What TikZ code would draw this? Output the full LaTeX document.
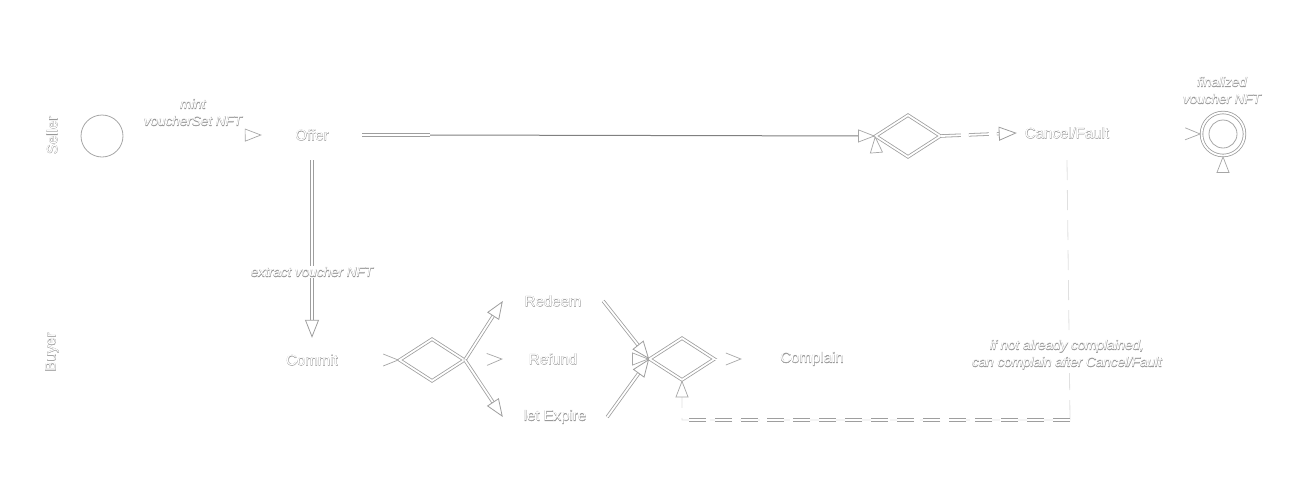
\documentclass[tikz,border=0pt]{standalone}
\usepackage{fontspec}
\setmainfont{Liberation Sans}
\newfontfamily\strokefont{Liberation Sans}[FakeBold=3]
\usetikzlibrary{shapes.geometric,arrows.meta}
\newcommand\ghost[1]{\leavevmode\rlap{\strokefont\color{black!40}#1}{\color{white}#1}}
\begin{document}
\begin{tikzpicture}[x=1pt,y=-1pt,
  lbl/.style={font=\fontsize{15}{18}\selectfont, inner sep=0pt},
  ilbl/.style={font=\fontsize{13.5}{17}\selectfont\itshape, align=center, inner sep=1pt},
  gate/.style={diamond, draw=black!38, line width=0.8pt, double=white, double distance=1.8pt, minimum width=65pt, minimum height=42pt, inner sep=0pt},
  dbl/.style={draw=black!38, line width=0.8pt, double=white, double distance=1.8pt},
  sgl/.style={draw=black!50, line width=1pt},
  ghostline/.style={draw=white, line width=0.5pt},
  faint/.style={draw=black!12, line width=0.8pt},
  tri/.style={-{Triangle[open,length=18pt,width=14pt]}},
  gtri/.style={-{Triangle[open,length=17pt,width=13pt,color=black!35,line width=0.7pt]}},
  gbarb/.style={-{Straight Barb[length=15pt,width=12pt,color=black!35,line width=0.7pt]}}
]
\useasboundingbox (0,0) rectangle (1305,485);
% nodes
\node[lbl, rotate=90] (seller) at (52,135) {\ghost{Seller}};
\node[lbl, rotate=90] (buyer) at (52,352) {\ghost{Buyer}};
\node[circle, draw=black!35, line width=0.8pt, minimum size=42pt, inner sep=0pt] (start) at (102,136) {};
\node[ilbl] (mintl) at (193,114) {\ghost{\begin{tabular}{@{}c@{}}mint\\voucherSet NFT\end{tabular}}};
\node[lbl, minimum width=100pt, minimum height=50pt] (offer) at (312,135) {\ghost{Offer}};
\node[lbl, minimum width=100pt, minimum height=44pt] (commit) at (312,360) {\ghost{Commit}};
\node[gate] (d1) at (432,360) {};
\node[lbl, minimum width=100pt, minimum height=30pt] (redeem) at (553,301) {\ghost{Redeem}};
\node[lbl, minimum width=100pt, minimum height=30pt] (refund) at (553,359) {\ghost{Refund}};
\node[lbl, minimum width=104pt, minimum height=30pt] (expire) at (555,417) {\ghost{let Expire}};
\node[gate] (d2) at (682,359) {};
\node[lbl, minimum width=140pt, minimum height=30pt] (complain) at (812,359) {\ghost{Complain}};
\node[gate] (d3) at (908,136) {};
\node[lbl, minimum width=100pt, minimum height=54pt] (cancel) at (1067,133) {\ghost{Cancel/Fault}};
\node[circle, dbl, minimum size=43pt, inner sep=0pt] (final) at (1223,134) {};
\node[circle, draw=black!35, line width=0.8pt, minimum size=28pt, inner sep=0pt] (finalin) at (final.center) {};
\node[ilbl] (finl) at (1222,92) {\ghost{\begin{tabular}{@{}c@{}}finalized\\voucher NFT\end{tabular}}};
\coordinate (o1) at (430,135);
\coordinate (k1) at (1070,420);
\coordinate (k2) at (683,420);
\coordinate (u3) at (877,160);
\coordinate (u4) at (1223,178);
% invisible connectors with visible tips
\draw[ghostline, gtri] (start) -- (offer.west);
\draw[ghostline, gbarb] (commit.east) -- (d1.west);
\draw[ghostline, gbarb] (d1.east) -- (refund.west);
\draw[ghostline, gtri] (refund.east) -- (d2.west);
\draw[ghostline, gbarb] (d2.east) -- (complain.west);
\draw[ghostline, gbarb] (cancel.east) -- (final.west);
\draw[ghostline, gtri] (u3) -- (d3.west);
\draw[ghostline, gtri] (u4) -- (final.south);
% visible connectors
\draw[dbl] (offer.east) -- (o1);
\draw[sgl, -{Triangle[open,length=17pt,width=13pt,color=black!35,line width=0.7pt]}] (o1) -- (d3.west);
\draw[dbl, tri] (offer.south) -- (commit.north)
  node[ilbl, fill=white, pos=0.63] (extl) {\ghost{extract voucher NFT}};
\draw[dbl, tri] (d1.east) -- (redeem.west);
\draw[dbl, tri] (d1.east) -- (expire.west);
\draw[dbl, tri] (redeem.east) -- (d2.west);
\draw[dbl, tri] (expire.east) -- (d2.west);
\draw[dbl, tri, dash pattern=on 20pt off 8pt] (d3.east) -- (cancel.west);
\draw[faint, dash pattern=on 20pt off 10pt, -{Triangle[open,length=17pt,width=13pt,color=black!35,line width=0.7pt]}] (cancel.south) -- (k1) -| (d2.south);
\draw[dbl, dash pattern=on 17pt off 9pt] (k1) -- (k2);
\node[ilbl, fill=white] (ifl) at (1067,355) {\ghost{\begin{tabular}{@{}c@{}}if not already complained,\\can complain after Cancel/Fault\end{tabular}}};
\end{tikzpicture}
\end{document}
